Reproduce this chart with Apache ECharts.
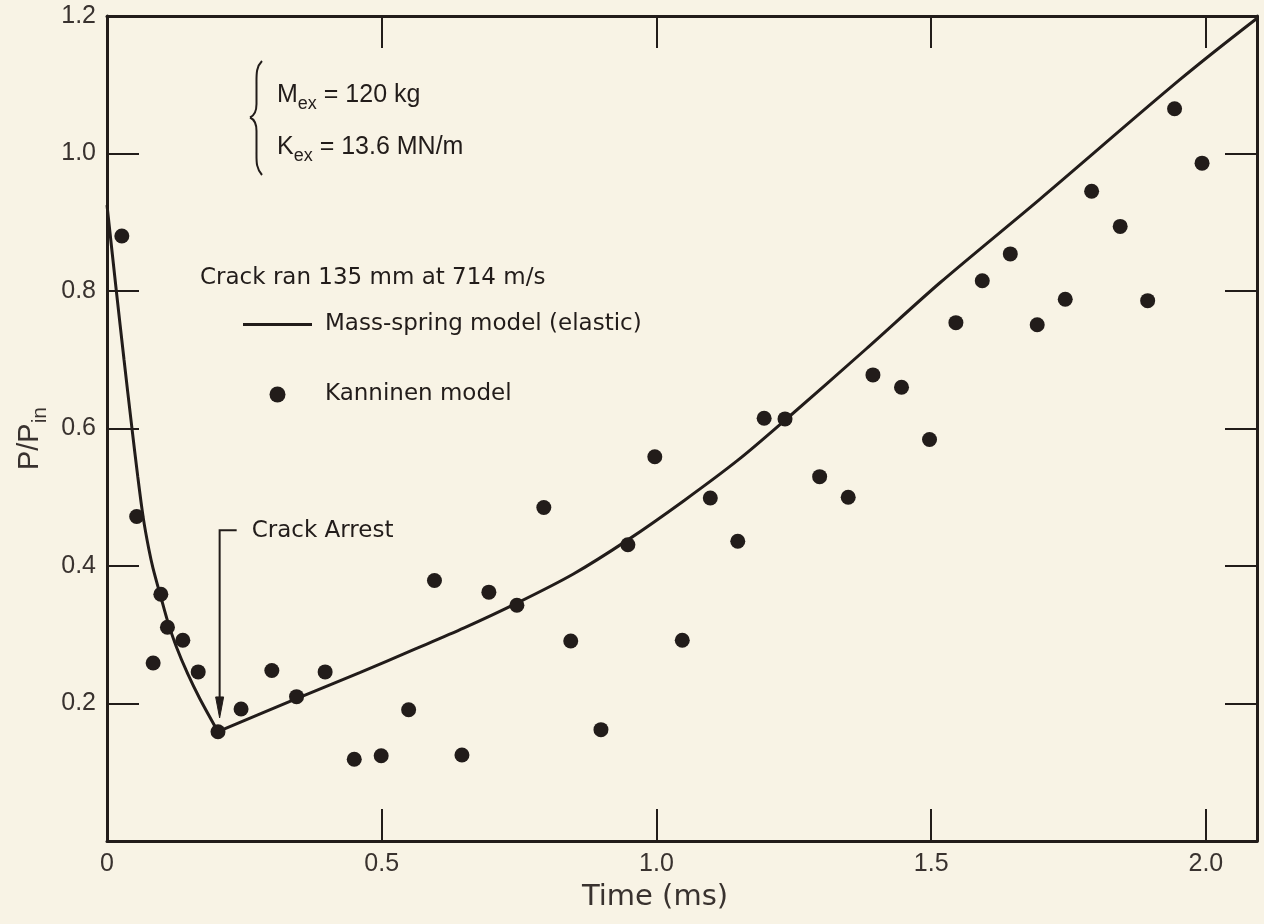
<!DOCTYPE html>
<html>
<head>
<meta charset="utf-8">
<script src="https://cdn.jsdelivr.net/npm/echarts@6/dist/echarts.min.js"></script>
<style>
  html, body { margin: 0; padding: 0; background: #f8f3e5; }
  #chart { width: 1264px; height: 924px; }
</style>
</head>
<body>
<div id="chart"></div>
<script>
// ---------- data ----------
const xTickLabels = ['0', '0.5', '1.0', '1.5', '2.0'];
const yTickLabels = ['0.2', '0.4', '0.6', '0.8', '1.0', '1.2'];

// Kanninen model points: time (ms) and P/Pin
const kanninenTime = [0.027, 0.054, 0.084, 0.098, 0.110, 0.138, 0.166, 0.202, 0.244, 0.300,
  0.345, 0.397, 0.450, 0.499, 0.549, 0.596, 0.646, 0.695, 0.746, 0.795,
  0.844, 0.899, 0.948, 0.997, 1.047, 1.098, 1.148, 1.196, 1.234, 1.297,
  1.349, 1.394, 1.446, 1.497, 1.545, 1.593, 1.644, 1.693, 1.744, 1.792,
  1.844, 1.894, 1.943, 1.993];
const kanninenLoad = [0.880, 0.472, 0.259, 0.359, 0.311, 0.292, 0.246, 0.159, 0.192, 0.248,
  0.210, 0.246, 0.119, 0.124, 0.191, 0.379, 0.125, 0.362, 0.343, 0.485,
  0.291, 0.162, 0.431, 0.559, 0.292, 0.499, 0.436, 0.615, 0.614, 0.530,
  0.500, 0.678, 0.660, 0.584, 0.754, 0.815, 0.854, 0.751, 0.788, 0.945,
  0.894, 0.786, 1.065, 0.986];

// Mass-spring model (elastic): drop until crack arrest, then rise
const springDropTime = [0, 0.017, 0.031, 0.045, 0.056, 0.066, 0.076, 0.0837, 0.099, 0.111, 0.126, 0.147, 0.169, 0.202];
const springDropLoad = [0.925, 0.800, 0.700, 0.603, 0.530, 0.470, 0.425, 0.397, 0.352, 0.318, 0.283, 0.243, 0.207, 0.159];
const springRiseTime = [0.202, 0.345, 0.46, 0.557, 0.65, 0.746, 0.848, 0.948, 1.05, 1.15, 1.234, 1.382, 1.516, 1.697, 1.952, 2.092];
const springRiseLoad = [0.159, 0.207, 0.245, 0.278, 0.310, 0.346, 0.388, 0.438, 0.495, 0.555, 0.612, 0.716, 0.812, 0.933, 1.107, 1.196];

// ---------- styling ----------
const INK = '#221c1a';
const LABEL = '#39322f';
const BG = '#f8f3e5';
const SANS = '"Liberation Sans", Arial, Helvetica, sans-serif';
const WIDE = '"DejaVu Sans", "Liberation Sans", sans-serif';

const X_MIN = 0, X_MAX = 2.093, X_STEP = 0.5;
const Y_MIN = 0, Y_MAX = 1.2, Y_STEP = 0.2;

const zip = (xs, ys) => xs.map((x, i) => [x, ys[i]]);

function xLabel(v) {
  const i = Math.round(v / X_STEP);
  return (Math.abs(v - i * X_STEP) < 1e-6 && i < xTickLabels.length) ? xTickLabels[i] : '';
}
function yLabel(v) {
  const i = Math.round(v / Y_STEP);
  return (i >= 1 && Math.abs(v - i * Y_STEP) < 1e-6 && i - 1 < yTickLabels.length) ? yTickLabels[i - 1] : '';
}

const tick = { show: true, inside: true, length: 32, lineStyle: { color: INK, width: 2 } };
const line = { show: true, onZero: false, lineStyle: { color: INK, width: 3 } };

const option = {
  backgroundColor: BG,
  animation: false,
  grid: { left: 107, right: 7, top: 16, bottom: 83, containLabel: false },
  xAxis: [
    {
      type: 'value', position: 'bottom', min: X_MIN, max: X_MAX, interval: X_STEP,
      axisLine: line, axisTick: tick, splitLine: { show: false },
      axisLabel: { formatter: xLabel, color: LABEL, fontFamily: SANS, fontSize: 25, margin: 11 },
      name: 'Time (ms)', nameLocation: 'middle', nameGap: 42,
      nameTextStyle: { color: LABEL, fontFamily: WIDE, fontSize: 29, padding: [0, 54, 0, 0] }
    },
    {
      type: 'value', position: 'top', min: X_MIN, max: X_MAX, interval: X_STEP,
      axisLine: line, axisTick: tick, splitLine: { show: false }, axisLabel: { show: false }
    }
  ],
  yAxis: [
    {
      type: 'value', position: 'left', min: Y_MIN, max: Y_MAX, interval: Y_STEP,
      axisLine: line, axisTick: tick, splitLine: { show: false },
      axisLabel: { formatter: yLabel, color: LABEL, fontFamily: SANS, fontSize: 25, margin: 11 },
      name: '{a|P/P}{b|in}', nameLocation: 'middle', nameGap: 56,
      nameTextStyle: {
        padding: [0, 20, 0, 0],
        rich: {
          a: { fontFamily: SANS, fontSize: 29, color: LABEL, lineHeight: 40 },
          b: { fontFamily: SANS, fontSize: 21, color: LABEL, lineHeight: 21, verticalAlign: 'bottom' }
        }
      }
    },
    {
      type: 'value', position: 'right', min: Y_MIN, max: Y_MAX, interval: Y_STEP,
      axisLine: line, axisTick: tick, splitLine: { show: false }, axisLabel: { show: false }
    }
  ],
  legend: {
    orient: 'vertical', left: 243, top: 313, padding: 0,
    itemWidth: 69, itemHeight: 16, itemGap: 47,
    selectedMode: false,
    textStyle: { color: INK, fontFamily: WIDE, fontSize: 23, padding: [0, 0, 0, 8] },
    data: [
      { name: 'Mass-spring model (elastic)', icon: 'path://M0,0M0,6.5L69,6.5L69,9.5L0,9.5ZM69,16' },
      { name: 'Kanninen model', icon: 'circle' }
    ]
  },
  series: [
    {
      name: 'Mass-spring model (elastic)', type: 'line', xAxisIndex: 0, yAxisIndex: 0,
      data: zip(springDropTime, springDropLoad), smooth: 0.3, symbol: 'none',
      lineStyle: { color: INK, width: 3 }, itemStyle: { color: INK }, z: 3
    },
    {
      name: 'Mass-spring model (elastic)', type: 'line', xAxisIndex: 0, yAxisIndex: 0,
      data: zip(springRiseTime, springRiseLoad), smooth: 0.3, symbol: 'none',
      lineStyle: { color: INK, width: 3 }, itemStyle: { color: INK }, z: 3
    },
    {
      name: 'Kanninen model', type: 'scatter', xAxisIndex: 0, yAxisIndex: 0,
      data: zip(kanninenTime, kanninenLoad), symbol: 'circle', symbolSize: 15,
      itemStyle: { color: INK, opacity: 1 }, z: 4
    }
  ]
};

const chart = echarts.init(document.getElementById('chart'));
chart.setOption(option);

// ---------- annotations ----------
const arrest = { x: 0.205, top: 0.452, tip: 0.179, hookX: 0.236 };
const toPx = (p) => chart.convertToPixel({ seriesIndex: 2 }, p);
const pTop = toPx([arrest.x, arrest.top]);
const pTip = toPx([arrest.x, arrest.tip]);
const pHook = toPx([arrest.hookX, arrest.top]);
const headH = 21, headW = 8;

const braceStroke = { fill: null, stroke: INK, lineWidth: 2 };
const richMain = { fontFamily: SANS, fontSize: 25, fill: INK, lineHeight: 36 };
const richSub = { fontFamily: SANS, fontSize: 18, fill: INK, lineHeight: 18, verticalAlign: 'bottom' };

const graphics = [
  // brace
  { type: 'bezierCurve', z: 10, shape: { x1: 262, y1: 61, cpx1: 256, cpy1: 67, cpx2: 256.5, cpy2: 74, x2: 256.5, y2: 84 }, style: braceStroke },
  { type: 'line', z: 10, shape: { x1: 256.5, y1: 84, x2: 256.5, y2: 104 }, style: braceStroke },
  { type: 'bezierCurve', z: 10, shape: { x1: 256.5, y1: 104, cpx1: 256.5, cpy1: 111, cpx2: 254.5, cpy2: 115.5, x2: 250, y2: 117.5 }, style: braceStroke },
  { type: 'bezierCurve', z: 10, shape: { x1: 250, y1: 117.5, cpx1: 254.5, cpy1: 119.5, cpx2: 256.5, cpy2: 124, x2: 256.5, y2: 131 }, style: braceStroke },
  { type: 'line', z: 10, shape: { x1: 256.5, y1: 131, x2: 256.5, y2: 152 }, style: braceStroke },
  { type: 'bezierCurve', z: 10, shape: { x1: 256.5, y1: 152, cpx1: 256.5, cpy1: 162, cpx2: 256, cpy2: 168, x2: 262, y2: 175 }, style: braceStroke },
  {
    type: 'text', z: 10, x: 277, y: 95,
    style: { text: '{m|M}{s|ex}{m| = 120 kg}', align: 'left', verticalAlign: 'middle', rich: { m: richMain, s: richSub } }
  },
  {
    type: 'text', z: 10, x: 277, y: 147,
    style: { text: '{m|K}{s|ex}{m| = 13.6 MN/m}', align: 'left', verticalAlign: 'middle', rich: { m: richMain, s: richSub } }
  },
  {
    type: 'text', z: 10, x: 200, y: 278,
    style: { text: 'Crack ran 135 mm at 714 m/s', fill: INK, font: '23px ' + WIDE, align: 'left', verticalAlign: 'middle' }
  },
  {
    type: 'text', z: 10, x: pHook[0] + 15, y: pTop[1] + 1,
    style: { text: 'Crack Arrest', fill: INK, font: '23px ' + WIDE, align: 'left', verticalAlign: 'middle' }
  },
  // arrow
  {
    type: 'polyline', z: 10,
    shape: { points: [[pHook[0], pHook[1]], [pTop[0], pTop[1]], [pTip[0], pTip[1] - headH + 2]] },
    style: { fill: null, stroke: INK, lineWidth: 2 }
  },
  {
    type: 'polygon', z: 10,
    shape: { points: [[pTip[0] - headW / 2, pTip[1] - headH], [pTip[0] + headW / 2, pTip[1] - headH], [pTip[0], pTip[1]]] },
    style: { fill: INK, stroke: INK, lineWidth: 1 }
  }
];
chart.setOption({ graphic: graphics });
</script>
</body>
</html>
